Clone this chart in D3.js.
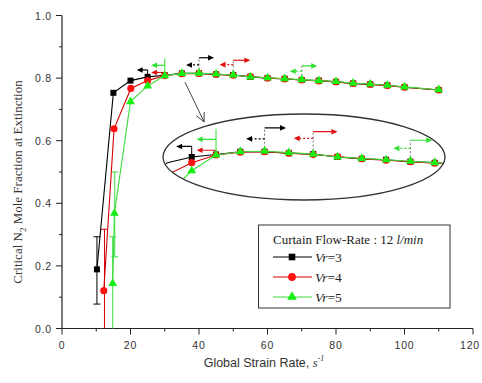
<!DOCTYPE html>
<html>
<head>
<meta charset="utf-8">
<script src="https://cdn.jsdelivr.net/npm/d3@7"></script>
<style>
  html, body { margin: 0; padding: 0; background: #fff; }
  svg { display: block; }
</style>
</head>
<body>
<svg id="chart" width="482" height="383"></svg>
<script>
// Critical N2 mole fraction at extinction vs. global strain rate
const strainVr3 = [10.2, 15, 20, 25, 30, 35, 40, 45, 50, 55, 60, 65, 70, 75, 80, 85, 90, 95, 100, 110];
const fracVr3   = [0.189, 0.753, 0.792, 0.804, 0.809, 0.815, 0.815, 0.812, 0.810, 0.804, 0.800, 0.798, 0.794, 0.792, 0.788, 0.783, 0.780, 0.777, 0.771, 0.762];
const strainVr4 = [12.2, 15.2, 20.1, 25, 30, 35, 40, 45, 50, 55, 60, 65, 70, 75, 80, 85, 90, 95, 100, 110];
const fracVr4   = [0.121, 0.638, 0.767, 0.792, 0.808, 0.814, 0.815, 0.812, 0.809, 0.805, 0.800, 0.797, 0.794, 0.791, 0.788, 0.783, 0.780, 0.776, 0.771, 0.762];
const strainVr5 = [14.8, 15.3, 20, 25, 30, 35, 40, 45, 50, 55, 60, 65, 70, 75, 80, 85, 90, 95, 100, 110];
const fracVr5   = [0.144, 0.368, 0.725, 0.775, 0.808, 0.815, 0.816, 0.813, 0.810, 0.804, 0.801, 0.798, 0.795, 0.792, 0.789, 0.784, 0.781, 0.777, 0.772, 0.763];

// vertical error bars: [strain, low, high]
const yErrVr3 = [[10.2, 0.078, 0.293]];
const yErrVr4 = [[12.4, 0.0, 0.317]];
const yErrVr5 = [[14.8, 0.0, 0.293], [15.4, 0.229, 0.50]];

// horizontal uncertainty arrows: [strain, value, stemTop, leftTo, leftAt, rightTo, rightAt, dashed]
const xErrVr3 = [[25, 0.804, 0.826, 21.8, 0.826, null, null, false],
                 [40, 0.815, 0.865, 36.2, 0.842, 44.4, 0.865, true]];
const xErrVr4 = [[30, 0.808, 0.818, 26.0, 0.818, null, null, false],
                 [50, 0.809, 0.857, 46.0, 0.843, 55.0, 0.857, true]];
const xErrVr5 = [[30, 0.808, 0.863, 26.0, 0.841, null, null, false],
                 [70, 0.795, 0.839, 66.5, 0.822, 74.5, 0.839, true]];

const xTicks = [0, 20, 40, 60, 80, 100, 120];
const yTicks = [0.0, 0.2, 0.4, 0.6, 0.8, 1.0];

const series = [
  { name: "3", xs: strainVr3, ys: fracVr3, yErr: yErrVr3, xErr: xErrVr3, line: "#000000", fill: "#000000", arrow: "#000000", shape: d3.symbolSquare, size: 36 },
  { name: "4", xs: strainVr4, ys: fracVr4, yErr: yErrVr4, xErr: xErrVr4, line: "#d40000", fill: "#ff1010", arrow: "#e01010", shape: d3.symbolCircle, size: 40 },
  { name: "5", xs: strainVr5, ys: fracVr5, yErr: yErrVr5, xErr: xErrVr5, line: "#3ddc3d", fill: "#14f014", arrow: "#30e030", shape: d3.symbolTriangle, size: 34 }
];

const svg = d3.select("#chart");
const x = d3.scaleLinear().domain([0, 120]).range([62, 473]);
const y = d3.scaleLinear().domain([0, 1]).range([328.5, 15.5]);

// magnified view of the plateau
const ix = d3.scaleLinear().domain([25, 70]).range([191.7, 410.4]);
const iy = d3.scaleLinear().domain([0.815, 0.794]).range([151.7, 161.7]);

// axes
const axisColor = "#222";
const tickFont = "'Liberation Sans', Arial, sans-serif";

const gx = svg.append("g").attr("transform", `translate(0,${y(0)})`);
gx.append("line").attr("x1", x(0)).attr("x2", x(120)).attr("stroke", axisColor).attr("stroke-width", 1.2);
gx.selectAll("line.minor").data(d3.range(10, 120, 20)).join("line").attr("class", "minor")
  .attr("x1", d => x(d)).attr("x2", d => x(d)).attr("y1", 0).attr("y2", 3).attr("stroke", axisColor);
gx.selectAll("line.major").data(xTicks).join("line").attr("class", "major")
  .attr("x1", d => x(d)).attr("x2", d => x(d)).attr("y1", 0).attr("y2", 6).attr("stroke", axisColor);
gx.selectAll("text").data(xTicks).join("text")
  .attr("x", d => x(d) - (d === 120 ? 3 : 0)).attr("y", 20).attr("text-anchor", "middle")
  .attr("font-family", tickFont).attr("font-size", 10.5).attr("letter-spacing", 0.8).attr("fill", "#333")
  .text(d => d);

const gy = svg.append("g").attr("transform", `translate(${x(0)},0)`);
gy.append("line").attr("y1", y(0)).attr("y2", y(1)).attr("stroke", axisColor).attr("stroke-width", 1.2);
gy.selectAll("line.minor").data(d3.range(0.1, 1, 0.2)).join("line").attr("class", "minor")
  .attr("y1", d => y(d)).attr("y2", d => y(d)).attr("x1", 0).attr("x2", -3).attr("stroke", axisColor);
gy.selectAll("line.major").data(yTicks).join("line").attr("class", "major")
  .attr("y1", d => y(d)).attr("y2", d => y(d)).attr("x1", 0).attr("x2", -6).attr("stroke", axisColor);
gy.selectAll("text").data(yTicks).join("text")
  .attr("x", -10).attr("y", d => y(d) + 4).attr("text-anchor", "end")
  .attr("font-family", tickFont).attr("font-size", 10.5).attr("letter-spacing", 0.8).attr("fill", "#333")
  .text(d => d.toFixed(1));

// axis titles
const yTitle = svg.append("text")
  .attr("transform", "translate(22,182) rotate(-90)")
  .attr("text-anchor", "middle")
  .attr("font-family", "'Liberation Serif', 'Times New Roman', serif")
  .attr("font-size", 13).attr("fill", "#333");
yTitle.append("tspan").text("Critical N");
yTitle.append("tspan").attr("font-size", 9).attr("dy", 4).text("2");
yTitle.append("tspan").attr("dy", -4).text(" Mole Fraction at Extinction");

const xTitle = svg.append("text")
  .attr("x", 264).attr("y", 367).attr("text-anchor", "middle")
  .attr("font-family", tickFont).attr("font-size", 12.5).attr("fill", "#333");
xTitle.append("tspan").text("Global Strain Rate, ");
xTitle.append("tspan").attr("font-family", "'Liberation Serif', serif").attr("font-style", "italic").text("s");
xTitle.append("tspan").attr("font-family", "'Liberation Serif', serif").attr("font-style", "italic")
  .attr("font-size", 8).attr("dy", -6).text("-1");

// filled arrowhead pointing along direction dir (+1 right, -1 left)
function arrowHead(g, px, py, dir, color) {
  g.append("path")
    .attr("d", `M${px},${py} L${px - dir * 6},${py - 2.8} L${px - dir * 6},${py + 2.8} Z`)
    .attr("fill", color);
}

function drawSeries(g, sx, sy, s, minStrain) {
  const pts = s.xs.map((v, i) => [v, s.ys[i]]);
  g.append("path").datum(pts)
    .attr("fill", "none").attr("stroke", s.line).attr("stroke-width", 1.1)
    .attr("d", d3.line().x(d => sx(d[0])).y(d => sy(d[1])));
  g.selectAll(null).data(pts.filter(d => d[0] >= minStrain)).join("path")
    .attr("transform", d => `translate(${sx(d[0])},${sy(d[1])})`)
    .attr("d", d3.symbol().type(s.shape).size(s.size))
    .attr("fill", s.fill);
}

function drawYErr(g, sx, sy, s) {
  s.yErr.forEach(e => {
    const cx = sx(e[0]);
    g.append("line").attr("x1", cx).attr("x2", cx).attr("y1", sy(e[1])).attr("y2", sy(e[2]))
      .attr("stroke", s.line).attr("stroke-width", 1);
    [e[1], e[2]].forEach(v => {
      if (v > 0) g.append("line").attr("x1", cx - 3.5).attr("x2", cx + 3.5)
        .attr("y1", sy(v)).attr("y2", sy(v)).attr("stroke", s.line).attr("stroke-width", 1);
    });
  });
}

function drawXErr(g, sx, sy, s) {
  const col = s.arrow;
  s.xErr.forEach(e => {
    const [at, v, top, lTo, lAt, rTo, rAt, dashed] = e;
    g.append("line").attr("x1", sx(at)).attr("x2", sx(at)).attr("y1", sy(v)).attr("y2", sy(top))
      .attr("stroke", dashed ? "#777" : col).attr("stroke-width", 1)
      .attr("stroke-dasharray", dashed ? "2,2" : null);
    if (lTo !== null) {
      g.append("line").attr("x1", sx(at)).attr("x2", sx(lTo) + 5).attr("y1", sy(lAt)).attr("y2", sy(lAt))
        .attr("stroke", col).attr("stroke-width", 1.2).attr("stroke-dasharray", dashed ? "2,2" : null);
      arrowHead(g, sx(lTo), sy(lAt), -1, col);
    }
    if (rTo !== null) {
      g.append("line").attr("x1", sx(at)).attr("x2", sx(rTo) - 5).attr("y1", sy(rAt)).attr("y2", sy(rAt))
        .attr("stroke", col).attr("stroke-width", 1.2);
      arrowHead(g, sx(rTo), sy(rAt), 1, col);
    }
  });
}

// main plot
const plot = svg.append("g");
series.forEach(s => drawYErr(plot, x, y, s));
series.forEach(s => drawXErr(plot, x, y, s));
series.forEach(s => drawSeries(plot, x, y, s, 0));

// pointer from the plateau to the magnified view
const ptrFrom = [35.9, 0.787], ptrTo = [41.5, 0.660];
const p0 = [x(ptrFrom[0]), y(ptrFrom[1])], p1 = [x(ptrTo[0]), y(ptrTo[1])];
const ang = Math.atan2(p1[1] - p0[1], p1[0] - p0[0]);
svg.append("line").attr("x1", p0[0]).attr("y1", p0[1]).attr("x2", p1[0]).attr("y2", p1[1])
  .attr("stroke", "#444").attr("stroke-width", 1);
[-0.45, 0.45].forEach(a => {
  svg.append("line").attr("x1", p1[0]).attr("y1", p1[1])
    .attr("x2", p1[0] - 10 * Math.cos(ang + a)).attr("y2", p1[1] - 10 * Math.sin(ang + a))
    .attr("stroke", "#444").attr("stroke-width", 1);
});

// magnified inset inside an ellipse
const lens = { cx: 304, cy: 157, rx: 141, ry: 43 };
svg.append("defs").append("clipPath").attr("id", "lens")
  .append("ellipse").attr("cx", lens.cx).attr("cy", lens.cy).attr("rx", lens.rx).attr("ry", lens.ry);
svg.append("ellipse").attr("cx", lens.cx).attr("cy", lens.cy).attr("rx", lens.rx).attr("ry", lens.ry)
  .attr("fill", "#fff");
const inset = svg.append("g").attr("clip-path", "url(#lens)");
series.forEach(s => drawXErr(inset, ix, iy, s));
series.forEach(s => drawSeries(inset, ix, iy, s, 24));
svg.append("ellipse").attr("cx", lens.cx).attr("cy", lens.cy).attr("rx", lens.rx).attr("ry", lens.ry)
  .attr("fill", "none").attr("stroke", "#333").attr("stroke-width", 1.3);

// legend
const serif = "'Liberation Serif', 'Times New Roman', serif";
const lg = svg.append("g");
lg.append("rect").attr("x", 258.5).attr("y", 225).attr("width", 191.5).attr("height", 83)
  .attr("fill", "#fff").attr("stroke", "#333").attr("stroke-width", 1);
const lt = lg.append("text").attr("x", 273).attr("y", 243.5)
  .attr("font-family", serif).attr("font-size", 13).attr("fill", "#222");
lt.append("tspan").text("Curtain Flow-Rate : 12 ");
lt.append("tspan").attr("font-style", "italic").text("l/min");
series.forEach((s, i) => {
  const ry = 257 + i * 20;
  lg.append("line").attr("x1", 273).attr("x2", 312).attr("y1", ry).attr("y2", ry)
    .attr("stroke", s.line).attr("stroke-width", 1.1);
  lg.append("path").attr("transform", `translate(292,${ry})`)
    .attr("d", d3.symbol().type(s.shape).size(s.size + 8)).attr("fill", s.fill);
  const t = lg.append("text").attr("x", 315).attr("y", ry + 4.5)
    .attr("font-family", serif).attr("font-size", 13.5).attr("fill", "#222");
  t.append("tspan").attr("font-style", "italic").text("Vr");
  t.append("tspan").text("=" + s.name);
});
</script>
</body>
</html>
